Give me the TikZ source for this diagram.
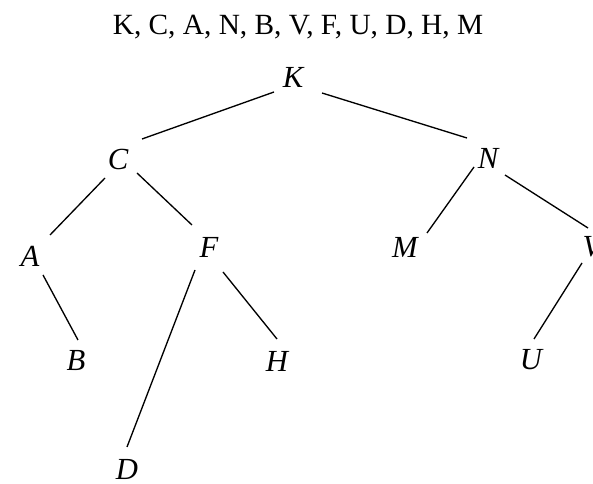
\documentclass[tikz,border=0pt]{standalone}
\usepackage{fontspec}
\setmainfont{Liberation Serif}
\usetikzlibrary{calc}
\begin{document}
\begin{tikzpicture}[x=0.75pt,y=-0.75pt,
  vertex/.style={inner sep=0pt,font=\fontsize{23}{23}\selectfont\itshape},
  heading/.style={inner sep=0pt,anchor=base,font=\fontsize{22}{22}\selectfont},
  branch/.style={line width=1pt,black}]
\useasboundingbox (0,0) rectangle (593,484);

% insertion order
\node[heading] (title) at (298,35) {K, C, A, N, B, V, F, U, D, H, M};

% tree vertices
\node[vertex] (K) at (293,77) {K};
\node[vertex] (C) at (118,159) {C};
\node[vertex] (N) at (488,158) {N};
\node[vertex] (A) at (30,256) {A};
\node[vertex] (F) at (209,247) {F};
\node[vertex] (M) at (405,247) {M};
\node[vertex] (V) at (592,247) {V};
\node[vertex] (B) at (76,361) {B};
\node[vertex] (H) at (277,361) {H};
\node[vertex] (U) at (531,360) {U};
\node[vertex] (D) at (127,469) {D};

% tree edges
\draw[branch] ($(K)+(-19,15)$) -- ($(C)+(24,-20)$);
\draw[branch] ($(K)+(29,16)$) -- ($(N)+(-21,-20)$);
\draw[branch] ($(C)+(-13,19)$) -- ($(A)+(20,-21)$);
\draw[branch] ($(C)+(19,14)$) -- ($(F)+(-17,-22)$);
\draw[branch] ($(A)+(13,19)$) -- ($(B)+(2,-21)$);
\draw[branch] ($(F)+(-14,23)$) -- ($(D)+(0,-22)$);
\draw[branch] ($(F)+(14,25)$) -- ($(H)+(0,-22)$);
\draw[branch] ($(N)+(-14,9)$) -- ($(M)+(22,-14)$);
\draw[branch] ($(N)+(17,17)$) -- ($(V)+(-4,-19)$);
\draw[branch] ($(V)+(-10,16)$) -- ($(U)+(3,-21)$);
\end{tikzpicture}
\end{document}
